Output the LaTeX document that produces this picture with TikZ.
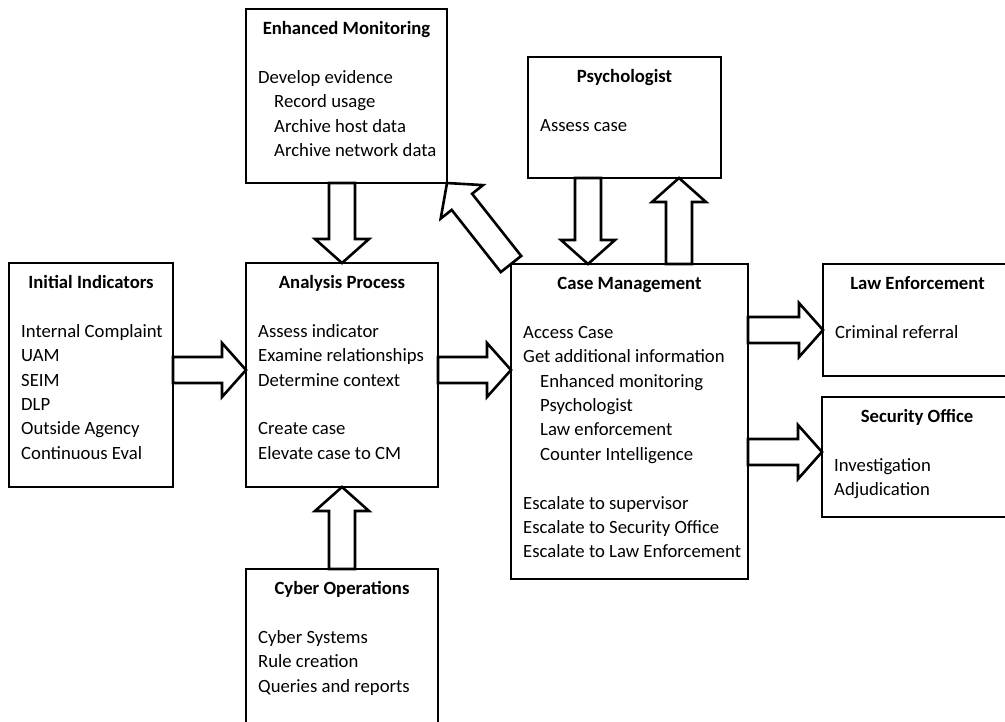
\documentclass[tikz,border=0pt]{standalone}
\usepackage{fontspec}
\setmainfont{Carlito}
\usetikzlibrary{calc}
\def\fatarrow(#1)(#2){\draw[fat] let \p1=(#1), \p2=(#2), \n1={veclen(\x2-\x1,\y2-\y1)}, \n2={atan2(\y2-\y1,\x2-\x1)} in [shift={(\p1)}, rotate=\n2] (0,13) -- ({\n1-24},13) -- ({\n1-24},27) -- (\n1,0) -- ({\n1-24},-27) -- ({\n1-24},-13) -- (0,-13) -- cycle;}
\def\topline{\rule{0pt}{18pt}}

\begin{document}
\begin{tikzpicture}[x=1pt, y=-1pt,
		box/.style={draw, line width=2.6pt, fill=white, inner sep=0pt, outer sep=0pt, anchor=north west},
		title/.style={anchor=base, inner sep=0pt, font=\fontsize{18.7}{24.4}\selectfont\bfseries},
		items/.style={anchor=north west, inner sep=0pt, align=left, font=\fontsize{18.7}{24.4}\selectfont},
		fat/.style={draw, fill=white, line width=2.6pt, line join=miter}]
		%%%%% START %%%%%
		
		\clip (0,0) rectangle (1005,721);
		
		\node[box, minimum width=164pt, minimum height=224pt] (ii) at (9,263) {};
		\node[title] (iit) at ($(ii.north)+(0,25)$) {Initial Indicators};
		\node[items] (iil) at ($(ii.north west)+(12,56)$) {\topline Internal Complaint\\UAM\\SEIM\\DLP\\Outside Agency\\Continuous Eval};
		
		\node[box, minimum width=192pt, minimum height=224pt] (ap) at (246,263) {};
		\node[title] (apt) at ($(ap.north)+(0,25)$) {Analysis Process};
		\node[items] (apl) at ($(ap.north west)+(12,56)$) {\topline Assess indicator\\Examine relationships\\Determine context\\[24.4pt]Create case\\Elevate case to CM};
		
		\node[box, minimum width=201pt, minimum height=174pt] (em) at (246,9) {};
		\node[title] (emt) at ($(em.north)+(0,25)$) {Enhanced Monitoring};
		\node[items] (eml) at ($(em.north west)+(12,56)$) {\topline Develop evidence\\\hspace*{16pt}Record usage\\\hspace*{16pt}Archive host data\\\hspace*{16pt}Archive network data};
		
		\node[box, minimum width=192pt, minimum height=171pt] (co) at (246,569) {};
		\node[title] (cot) at ($(co.north)+(0,25)$) {Cyber Operations};
		\node[items] (col) at ($(co.north west)+(12,56)$) {\topline Cyber Systems\\Rule creation\\Queries and reports};
		
		\node[box, minimum width=193pt, minimum height=121pt] (ps) at (528,57) {};
		\node[title] (pst) at ($(ps.north)+(0,25)$) {Psychologist};
		\node[items] (psl) at ($(ps.north west)+(12,56)$) {\topline Assess case};
		
		\node[box, minimum width=237pt, minimum height=315pt] (cm) at (511,264) {};
		\node[title] (cmt) at ($(cm.north)+(0,25)$) {Case Management};
		\node[items] (cml) at ($(cm.north west)+(12,56)$) {\topline Access Case\\Get additional information\\\hspace*{17pt}Enhanced monitoring\\\hspace*{17pt}Psychologist\\\hspace*{17pt}Law enforcement\\\hspace*{17pt}Counter Intelligence\\[24.4pt]Escalate to supervisor\\Escalate to Security Office\\Escalate to Law Enforcement};
		
		\node[box, minimum width=189pt, minimum height=112pt] (le) at (823,264) {};
		\node[title] (let) at ($(le.north)+(0,25)$) {Law Enforcement};
		\node[items] (lel) at ($(le.north west)+(12,56)$) {\topline Criminal referral};
		
		\node[box, minimum width=190pt, minimum height=120pt] (so) at (822,397) {};
		\node[title] (sot) at ($(so.north)+(0,25)$) {Security Office};
		\node[items] (sol) at ($(so.north west)+(12,56)$) {\topline Investigation\\Adjudication};
		
		% block arrows
		\fatarrow(ii.east |- 0,370)(ap.west |- 0,370);
		\fatarrow(ap.east |- 0,370)(cm.west |- 0,370);
		\fatarrow(ap.north |- em.south)(ap.north);
		\fatarrow(co.north)(ap.south);
		\fatarrow(cm.north west)(em.south east);
		\fatarrow(ps.south -| 588,0)(cm.north -| 588,0);
		\fatarrow(cm.north -| 679,0)(ps.south -| 679,0);
		\fatarrow(cm.east |- 0,330)(le.west |- 0,330);
		\fatarrow(cm.east |- 0,452)(so.west |- 0,452);
		
		%%%%% END %%%%%
	\end{tikzpicture}
\end{document}
